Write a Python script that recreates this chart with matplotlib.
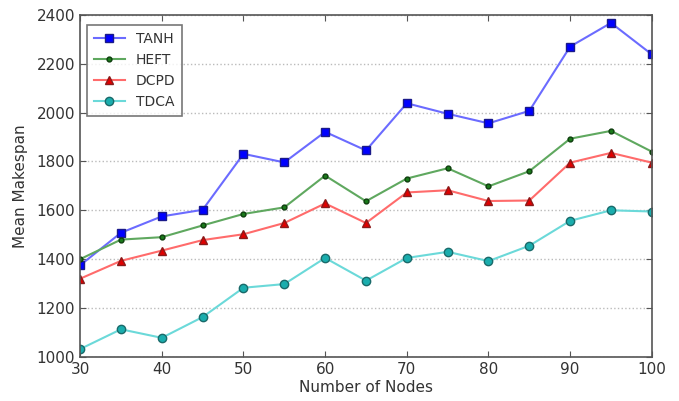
import matplotlib
matplotlib.use("Agg")
import matplotlib.pyplot as plt

nodes = [30, 35, 40, 45, 50, 55, 60, 65, 70, 75, 80, 85, 90, 95, 100]
tanh = [1375, 1508, 1575, 1602, 1831, 1796, 1921, 1845, 2038, 1995, 1956, 2007, 2270, 2367, 2238]
heft = [1400, 1480, 1490, 1538, 1585, 1612, 1742, 1637, 1730, 1772, 1698, 1760, 1893, 1925, 1840]
dcpd = [1320, 1393, 1435, 1478, 1502, 1548, 1628, 1548, 1673, 1682, 1638, 1640, 1795, 1835, 1795]
tdca = [1032, 1113, 1078, 1163, 1283, 1298, 1405, 1312, 1405, 1430, 1392, 1455, 1557, 1600, 1595]

fig = plt.figure(figsize=(6.79, 4.01), dpi=100)
ax = fig.add_axes([0.118, 0.110, 0.842, 0.853])

txt = '#333333'
series = [
    ("TANH", tanh, 's', '#6b6bff', '#0000ff', '#1a1a8a', 6),
    ("HEFT", heft, 'o', '#5fa85f', '#1a7a1a', '#0d3d0d', 3.5),
    ("DCPD", dcpd, '^', '#ff6b6b', '#e00000', '#8a1a1a', 6),
    ("TDCA", tdca, 'o', '#6bd9d9', '#1aadad', '#1a6a6a', 6),
]
for name, vals, m, lc, fc, ec, ms in series:
    ax.plot(nodes, vals, color=lc, marker=m, markerfacecolor=fc,
            markeredgecolor=ec, markersize=ms, lw=1.5, label=name)

ax.set_xlim(30, 100)
ax.set_ylim(1000, 2400)
ax.set_xticks(range(30, 101, 10))
ax.set_yticks(range(1000, 2401, 200))
ax.yaxis.grid(True, linestyle=':', color='#bbbbbb', lw=1)
ax.set_axisbelow(True)
for s in ax.spines.values():
    s.set_color('#555555')
    s.set_linewidth(1.2)
ax.tick_params(labelsize=11, colors='#555555', labelcolor=txt, direction='in',
               length=4, top=True, right=True)
ax.set_xlabel("Number of Nodes", fontsize=11, color=txt, labelpad=2)
ax.set_ylabel("Mean Makespan", fontsize=11, color=txt, labelpad=6)
leg = ax.legend(loc='upper left', fontsize=10, frameon=True, fancybox=False,
                edgecolor='#555555', handlelength=2.2, borderpad=0.5, labelspacing=0.5,
                bbox_to_anchor=(0.0, 0.99))
for t in leg.get_texts():
    t.set_color(txt)
leg.get_frame().set_linewidth(1.2)

fig.savefig("out.png", dpi=100)
